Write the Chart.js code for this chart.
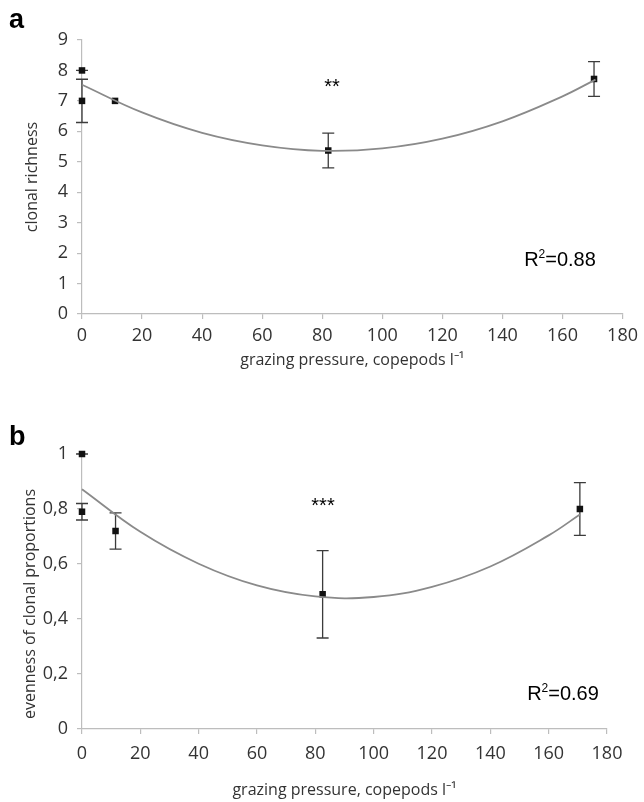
<!DOCTYPE html>
<html>
<head>
<meta charset="utf-8">
<script src="https://cdn.jsdelivr.net/npm/chart.js@4.4.1/dist/chart.umd.min.js"></script>
<style>
  body { margin: 0; background: #fff; }
  #wrap { position: relative; width: 644px; height: 802px; }
  .panel { position: absolute; left: 0; }
</style>
</head>
<body>
<div id="wrap">
  <div class="panel" style="top:0"><canvas id="chartA" width="644" height="400"></canvas></div>
  <div class="panel" style="top:400px"><canvas id="chartB" width="644" height="402"></canvas></div>
</div>
<script>
// panel a - clonal richness
const grazingA = [0, 0, 11, 82, 170.5];
const richness = [8, 7, 7, 5.37, 7.72];
const richnessErr = [0, 0.71, null, 0.57, 0.57];
const trendXA = [0, 20, 40, 60, 80, 100, 120, 140, 160, 171];
const trendA = [7.53, 6.62, 5.95, 5.54, 5.36, 5.44, 5.76, 6.33, 7.15, 7.70];

// panel b - evenness
const grazingB = [0, 0, 11.5, 82.5, 170.7];
const evenness = [1.0, 0.79, 0.72, 0.49, 0.80];
const evennessErr = [0, 0.03, 0.066, 0.159, 0.096];
const trendXB = [0, 20, 40, 60, 80, 100, 120, 140, 160, 170.7];
const trendB = [0.872, 0.717, 0.601, 0.522, 0.482, 0.480, 0.517, 0.591, 0.704, 0.780];

const xTicks = [0, 20, 40, 60, 80, 100, 120, 140, 160, 180];
const xTitle = 'grazing pressure, copepods l\u207B\u00B9';

const axisGrey = '#bdbdbd';
const tickFont = { family: 'Open Sans', size: 18 };

function pts(xs, ys) {
  return xs.map((x, i) => ({ x: x, y: ys[i] }));
}

// error bars drawn through the chart scales
function errorBars(errs) {
  return {
    id: 'errorBars',
    beforeDatasetsDraw(chart) {
      const { ctx, scales: { x, y } } = chart;
      const data = chart.data.datasets[1].data;
      ctx.save();
      ctx.strokeStyle = '#3c3c3c';
      ctx.lineWidth = 1.3;
      data.forEach((p, i) => {
        const e = errs[i];
        if (e === null || e === undefined) return;
        const px = x.getPixelForValue(p.x);
        const top = y.getPixelForValue(p.y + e);
        const bot = y.getPixelForValue(p.y - e);
        ctx.beginPath();
        ctx.moveTo(px, top); ctx.lineTo(px, bot);
        ctx.moveTo(px - 6, top); ctx.lineTo(px + 6, top);
        ctx.moveTo(px - 6, bot); ctx.lineTo(px + 6, bot);
        ctx.stroke();
      });
      ctx.restore();
    }
  };
}

// letters, stars, R2, axis titles
function labels(cfg) {
  return {
    id: 'labels',
    afterDraw(chart) {
      const ctx = chart.ctx;
      const area = chart.chartArea;
      ctx.save();
      ctx.fillStyle = '#000';
      ctx.font = 'bold 27px "Liberation Sans", Arial';
      ctx.textAlign = 'left';
      ctx.textBaseline = 'alphabetic';
      ctx.fillText(cfg.letter, 9, cfg.letterY);

      ctx.font = '20px "Liberation Sans", Arial';
      ctx.textAlign = 'center';
      ctx.fillText(cfg.stars, cfg.starsX, cfg.starsY);

      // R^2
      ctx.font = '20px "Liberation Sans", Arial';
      ctx.textAlign = 'left';
      const rW = ctx.measureText('R').width;
      ctx.font = '12px "Liberation Sans", Arial';
      const sW = ctx.measureText('2').width;
      ctx.font = '20px "Liberation Sans", Arial';
      const restW = ctx.measureText(cfg.r2).width;
      let rx = cfg.r2X - (rW + sW + restW) / 2;
      ctx.fillText('R', rx, cfg.r2Y);
      ctx.font = '12px "Liberation Sans", Arial';
      ctx.fillText('2', rx + rW, cfg.r2Y - 8);
      ctx.font = '20px "Liberation Sans", Arial';
      ctx.fillText(cfg.r2, rx + rW + sW, cfg.r2Y);

      // axis titles
      ctx.fillStyle = '#333';
      ctx.font = '16px "Open Sans"';
      ctx.textAlign = 'center';
      ctx.textBaseline = 'middle';
      ctx.fillText(xTitle, (area.left + area.right) / 2, cfg.xTitleY);
      ctx.translate(cfg.yTitleX, cfg.yTitleY);
      ctx.rotate(-Math.PI / 2);
      ctx.fillText(cfg.yTitle, 0, 0);
      ctx.restore();
    }
  };
}

function makeChart(id, opt) {
  return new Chart(document.getElementById(id), {
    data: {
      datasets: [
        {
          type: 'line',
          data: pts(opt.trendX, opt.trendY),
          borderColor: '#8a8a8a',
          borderWidth: 1.8,
          pointRadius: 0,
          tension: 0.4,
          fill: false,
          clip: false
        },
        {
          type: 'scatter',
          data: pts(opt.xs, opt.ys),
          pointStyle: 'rect',
          pointRadius: 4.6,
          backgroundColor: '#111',
          borderColor: '#111',
          borderWidth: 0,
          clip: false
        }
      ]
    },
    options: {
      responsive: false,
      animation: false,
      events: [],
      layout: { padding: { top: opt.padTop, right: opt.padRight, left: 0, bottom: 0 } },
      plugins: { legend: { display: false }, tooltip: { enabled: false } },
      scales: {
        x: {
          type: 'linear',
          min: 0, max: 180,
          afterBuildTicks: s => { s.ticks = xTicks.map(v => ({ value: v })); },
          afterFit: s => { s.height = opt.xHeight; },
          border: { color: axisGrey, width: 1.2 },
          grid: { drawOnChartArea: false, tickLength: 5, color: axisGrey, lineWidth: 1.2 },
          ticks: { font: tickFont, color: '#333', padding: opt.xPad, maxRotation: 0 }
        },
        y: {
          type: 'linear',
          min: 0, max: opt.yMax,
          afterBuildTicks: s => { s.ticks = opt.yTicks.map(v => ({ value: v })); },
          afterFit: s => { s.width = 82; },
          border: { color: axisGrey, width: 1.2 },
          grid: { drawOnChartArea: false, tickLength: 5, color: axisGrey, lineWidth: 1.2 },
          ticks: { font: tickFont, color: '#333', padding: 9, callback: opt.yFmt }
        }
      }
    },
    plugins: [errorBars(opt.errs), labels(opt.text)]
  });
}

makeChart('chartA', {
  xs: grazingA, ys: richness, errs: richnessErr,
  trendX: trendXA, trendY: trendA,
  yMax: 9, yTicks: [0, 1, 2, 3, 4, 5, 6, 7, 8, 9],
  yFmt: v => String(v),
  padTop: 40, padRight: 20, xHeight: 86, xPad: 6,
  text: {
    letter: 'a', letterY: 28, stars: '**', starsX: 332, starsY: 93,
    r2: '=0.88', r2X: 560, r2Y: 266,
    xTitleY: 360, yTitle: 'clonal richness', yTitleX: 32, yTitleY: 177
  }
});

makeChart('chartB', {
  xs: grazingB, ys: evenness, errs: evennessErr,
  trendX: trendXB, trendY: trendB,
  yMax: 1, yTicks: [0, 0.2, 0.4, 0.6, 0.8, 1],
  yFmt: v => String(Math.round(v * 10) / 10).replace('.', ','),
  padTop: 54, padRight: 37, xHeight: 73, xPad: 9,
  text: {
    letter: 'b', letterY: 45, stars: '***', starsX: 323, starsY: 112,
    r2: '=0.69', r2X: 563, r2Y: 300,
    xTitleY: 390, yTitle: 'evenness of clonal proportions', yTitleX: 30, yTitleY: 204
  }
});
</script>
</body>
</html>
